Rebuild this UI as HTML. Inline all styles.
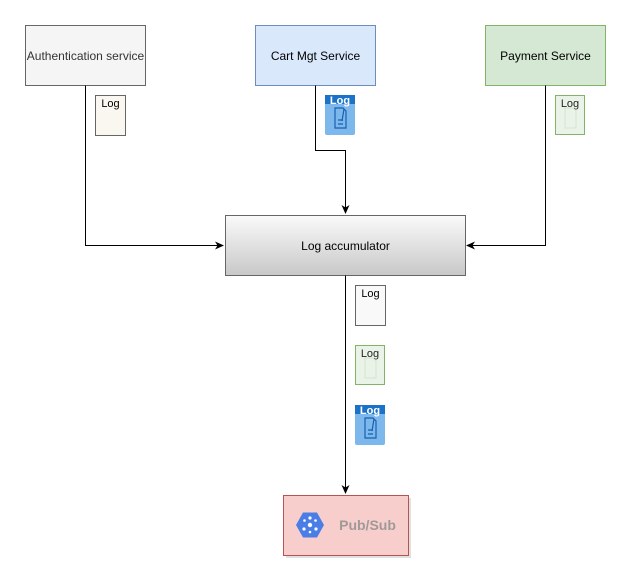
<!DOCTYPE html>
<html><head><style>body{margin:0;background:#fff}svg{display:block}</style></head><body>
<svg width="631" height="584" viewBox="0 0 631 584" xmlns="http://www.w3.org/2000/svg" font-family="Liberation Sans, sans-serif">
<defs>
<linearGradient id="g" x1="0" y1="0" x2="0" y2="1"><stop offset="0" stop-color="#fafafa"/><stop offset="1" stop-color="#c8c8c8"/></linearGradient>
<marker id="a" markerWidth="10" markerHeight="10" refX="8" refY="5" orient="auto" markerUnits="userSpaceOnUse"><path d="M0,1 L9,5 L0,9 L2.5,5 Z" fill="#000"/></marker>
<g id="blue">
<rect x="0" y="0" width="30" height="40" rx="2" fill="#7db8ec"/>
<rect x="0" y="0" width="30" height="9" fill="#1a73c8"/>
<text x="15" y="9" font-size="11" font-weight="bold" fill="#fff" text-anchor="middle">Log</text>
<path d="M10,13 h8 l3,3 v17 h-11 z" fill="none" stroke="#1a5fb0" stroke-width="1.2"/>
<path d="M13,25 h5 M13,29 h5 M19,14 l-2,12" stroke="#1a5fb0" stroke-width="1.2"/>
</g>
<g id="green">
<rect x="0.5" y="0.5" width="29" height="39" fill="#eaf3e8" stroke="#82b366"/>
<text x="15" y="12" font-size="11" fill="#222" text-anchor="middle">Log</text>
<path d="M10,13 h8 l3,3 v17 h-11 z" fill="none" stroke="#d8e8d4" stroke-width="1.2"/>
</g>
</defs>
<rect x="25.5" y="25.5" width="120" height="60" fill="#f5f5f5" stroke="#666"/>
<text x="85.5" y="60" font-size="12" text-anchor="middle" fill="#333">Authentication service</text>
<rect x="255.5" y="25.5" width="120" height="60" fill="#dae8fc" stroke="#6c8ebf"/>
<text x="315.5" y="60" font-size="12" text-anchor="middle" fill="#000">Cart Mgt Service</text>
<rect x="485.5" y="25.5" width="120" height="60" fill="#d5e8d4" stroke="#82b366"/>
<text x="545.5" y="60" font-size="12" text-anchor="middle" fill="#000">Payment  Service</text>
<rect x="95.5" y="95.5" width="30" height="40" fill="#f9f7ef" stroke="#666"/>
<text x="110.5" y="107" font-size="11" text-anchor="middle">Log</text>
<use href="#blue" x="325" y="95"/>
<use href="#green" x="555" y="95"/>
<path d="M85.5,85.5 V245.5 H223" fill="none" stroke="#000" marker-end="url(#a)"/>
<path d="M315.5,85.5 V150.5 H345.5 V213" fill="none" stroke="#000" marker-end="url(#a)"/>
<path d="M545.5,85.5 V245.5 H467" fill="none" stroke="#000" marker-end="url(#a)"/>
<rect x="225.5" y="215.5" width="240" height="60" fill="url(#g)" stroke="#666"/>
<text x="345.5" y="250" font-size="12" text-anchor="middle">Log accumulator</text>
<path d="M345.5,275.5 V493" fill="none" stroke="#000" marker-end="url(#a)"/>
<rect x="355.5" y="285.5" width="30" height="40" fill="#f9f9f9" stroke="#666"/>
<text x="370.5" y="297" font-size="11" text-anchor="middle">Log</text>
<use href="#green" x="355" y="345"/>
<use href="#blue" x="355" y="405"/>
<rect x="286" y="498" width="125" height="60" fill="#ccc" opacity="0.6"/>
<rect x="283.5" y="495.5" width="125" height="60" fill="#f8cecc" stroke="#b85450"/>
<polygon points="296,525 303,512.5 317,512.5 324,525 317,537.5 303,537.5" fill="#4a7ee6"/>
<g fill="#fff"><circle cx="310" cy="525" r="2.2"/><circle cx="310" cy="518" r="1.6"/><circle cx="304" cy="529" r="1.6"/><circle cx="316" cy="529" r="1.6"/><circle cx="304.5" cy="520.5" r="1.3"/><circle cx="315.5" cy="520.5" r="1.3"/><circle cx="310" cy="532" r="1.3"/></g>
<text x="367.5" y="530" font-size="14" font-weight="bold" fill="#a09999" text-anchor="middle">Pub/Sub</text>
</svg>
</body></html>
